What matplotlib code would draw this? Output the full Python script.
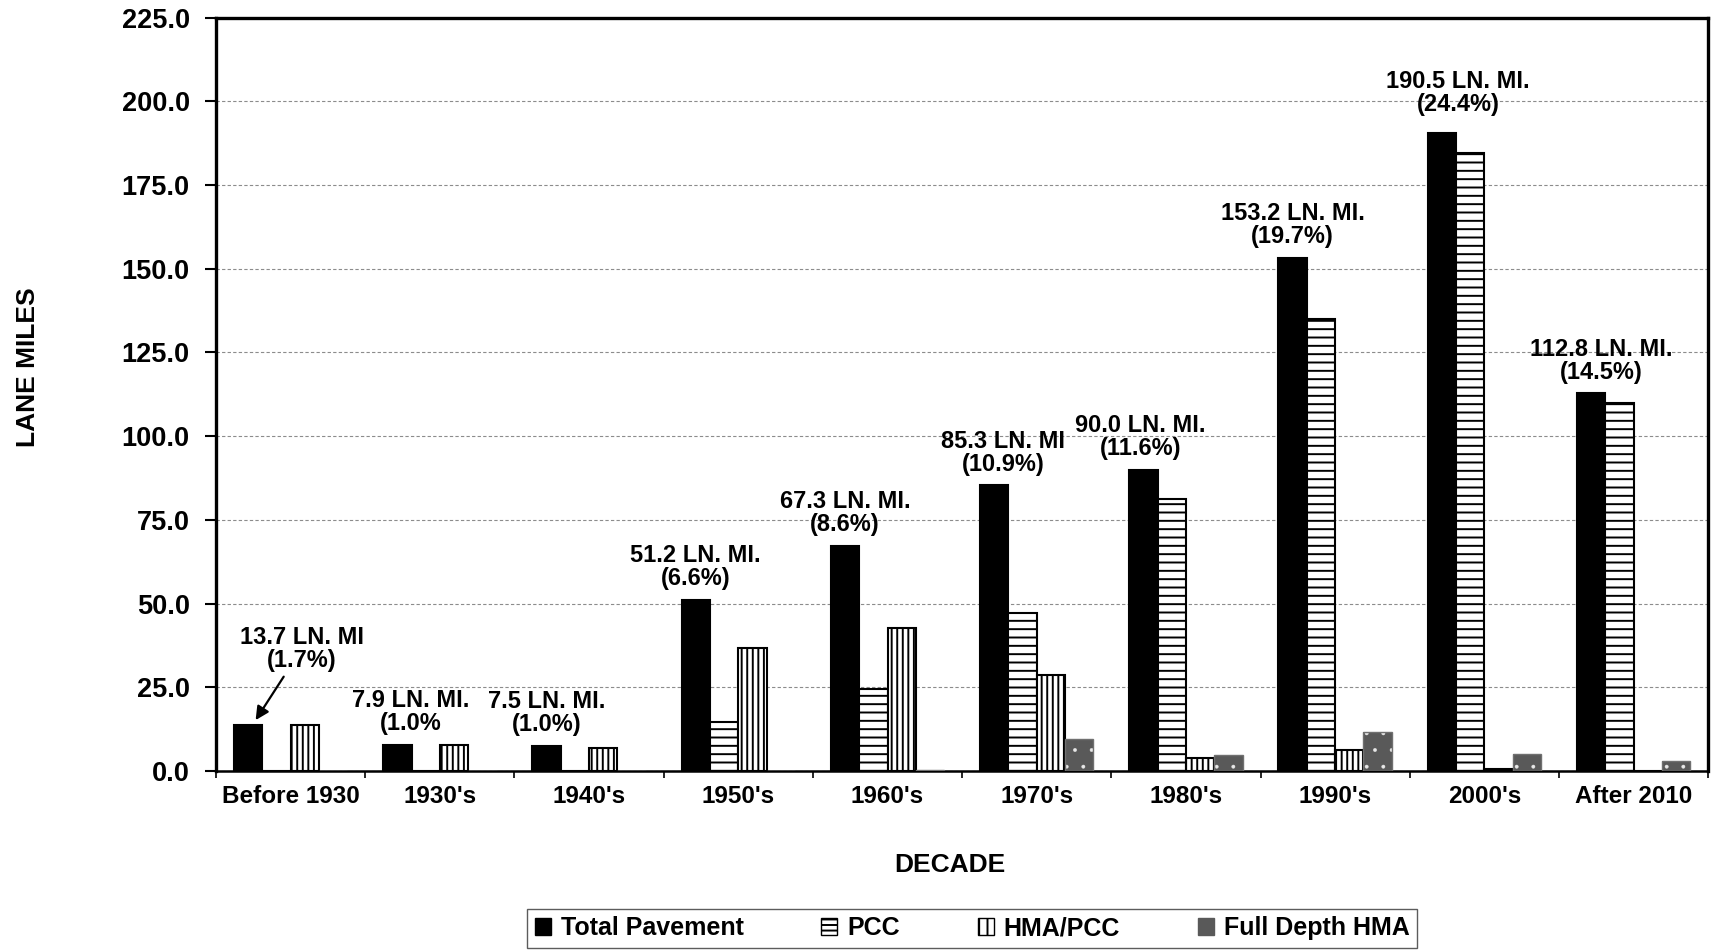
import matplotlib
matplotlib.use("Agg")
import matplotlib.pyplot as plt
from matplotlib.patches import Patch
from matplotlib.ticker import FormatStrFormatter
import numpy as np

plt.rcParams['font.family'] = ['Liberation Sans', 'DejaVu Sans']
plt.rcParams['font.weight'] = 'bold'
plt.rcParams['hatch.linewidth'] = 1.4

# data
decades = ["Before 1930", "1930's", "1940's", "1950's", "1960's",
           "1970's", "1980's", "1990's", "2000's", "After 2010"]
total = [13.7, 7.9, 7.5, 51.2, 67.3, 85.3, 90.0, 153.2, 190.5, 112.8]
pcc = [0, 0, 0, 14.5, 24.5, 47.3, 81.3, 135.0, 184.6, 110.0]
hma_pcc = [13.7, 7.9, 6.8, 36.8, 42.7, 28.6, 3.9, 6.2, 0.5, 0]
full_depth = [0, 0, 0, 0, 0.3, 9.6, 4.9, 11.8, 5.0, 2.9]
labels = ["13.7 LN. MI\n(1.7%)", "7.9 LN. MI.\n(1.0%", "7.5 LN. MI.\n(1.0%)",
          "51.2 LN. MI.\n(6.6%)", "67.3 LN. MI.\n(8.6%)", "85.3 LN. MI\n(10.9%)",
          "90.0 LN. MI.\n(11.6%)", "153.2 LN. MI.\n(19.7%)", "190.5 LN. MI.\n(24.4%)",
          "112.8 LN. MI.\n(14.5%)"]
series_names = ["Total Pavement", "PCC", "HMA/PCC", "Full Depth HMA"]

# label placement tweaks (x shift in category units, gap in points)
label_dx = [0.36, 0.09, 0.0, 0.0, 0.0, 0.06, -0.02, 0.0, 0.11, 0.07]
label_gap = [0, 7, 7, 7, 7, 7, 7, 7, 12, 7]

fd_gray = '#595959'
x = np.arange(len(decades))
w = 0.19

fig = plt.figure(figsize=(17.19, 9.52), dpi=100)
ax = fig.add_axes([0.1257, 0.1901, 0.868, 0.7915])

ax.bar(x - 1.5 * w, total, w, color='black', edgecolor='black', linewidth=1.5, zorder=3)
ax.bar(x - 0.5 * w, pcc, w, color='white', edgecolor='black', hatch='--', linewidth=1.5, zorder=3)
ax.bar(x + 0.5 * w, hma_pcc, w, color='white', edgecolor='black', hatch='|||', linewidth=1.5, zorder=3)
with plt.rc_context({'hatch.linewidth': 0.3}):
    ax.bar(x + 1.5 * w, full_depth, w, color=fd_gray, edgecolor='#e8e8e8', hatch='.', linewidth=0, zorder=3)
ax.bar(x + 1.5 * w, full_depth, w, fill=False, edgecolor='#707070', linewidth=1.0, zorder=3)

# value labels above the total bars
for i, (lab, v) in enumerate(zip(labels, total)):
    bx = x[i] - 1.5 * w
    if i == 0:
        ax.annotate(lab, xy=(bx + 0.05, v + 1.5), xytext=(bx + label_dx[i], v + 16),
                    ha='center', va='bottom', fontsize=17, linespacing=1.0,
                    arrowprops=dict(arrowstyle='-|>', color='black', lw=1.6,
                                    mutation_scale=20, shrinkA=2, shrinkB=0))
    else:
        ax.annotate(lab, xy=(bx + label_dx[i], v), xytext=(0, label_gap[i]),
                    textcoords='offset points', ha='center', va='bottom',
                    fontsize=17, linespacing=1.0)

ax.set_xlim(-0.5, len(decades) - 0.5)
ax.set_ylim(0, 225)
ax.set_yticks(np.arange(0, 226, 25))
ax.yaxis.set_major_formatter(FormatStrFormatter('%.1f'))
ax.yaxis.grid(True, linestyle=(0, (3, 2)), color='#8c8c8c', linewidth=0.8)
ax.set_axisbelow(True)

ax.set_xticks(x)
ax.set_xticklabels(decades)
ax.set_xticks(np.arange(-0.5, len(decades), 1), minor=True)
ax.tick_params(axis='x', which='major', length=0, pad=10, labelsize=17.5)
ax.tick_params(axis='x', which='minor', length=5, width=1.2)
ax.tick_params(axis='y', length=8, width=1.5, pad=11, labelsize=19.5)

for s in ax.spines.values():
    s.set_linewidth(2.4)
ax.spines['bottom'].set_linewidth(1.8)

ax.set_xlabel('DECADE', fontsize=19, fontweight='bold')
ax.xaxis.set_label_coords(0.492, -0.109)
ax.set_ylabel('LANE MILES', fontsize=19, fontweight='bold')
ax.yaxis.set_label_coords(-0.118, 0.536)

handles = [Patch(facecolor='black', edgecolor='black'),
           Patch(facecolor='white', edgecolor='black', hatch='---'),
           Patch(facecolor='white', edgecolor='black', hatch='||'),
           Patch(facecolor=fd_gray, edgecolor=fd_gray)]
leg = fig.legend(handles, series_names, loc='center', bbox_to_anchor=(0.5655, 0.0252),
                 ncol=4, frameon=True, fancybox=False, edgecolor='#333333',
                 fontsize=18, handlelength=0.65, handleheight=0.65,
                 columnspacing=3.1, handletextpad=0.4, borderpad=0.3, borderaxespad=0)
leg.get_frame().set_linewidth(1.0)

fig.savefig('out.png', dpi=100)
